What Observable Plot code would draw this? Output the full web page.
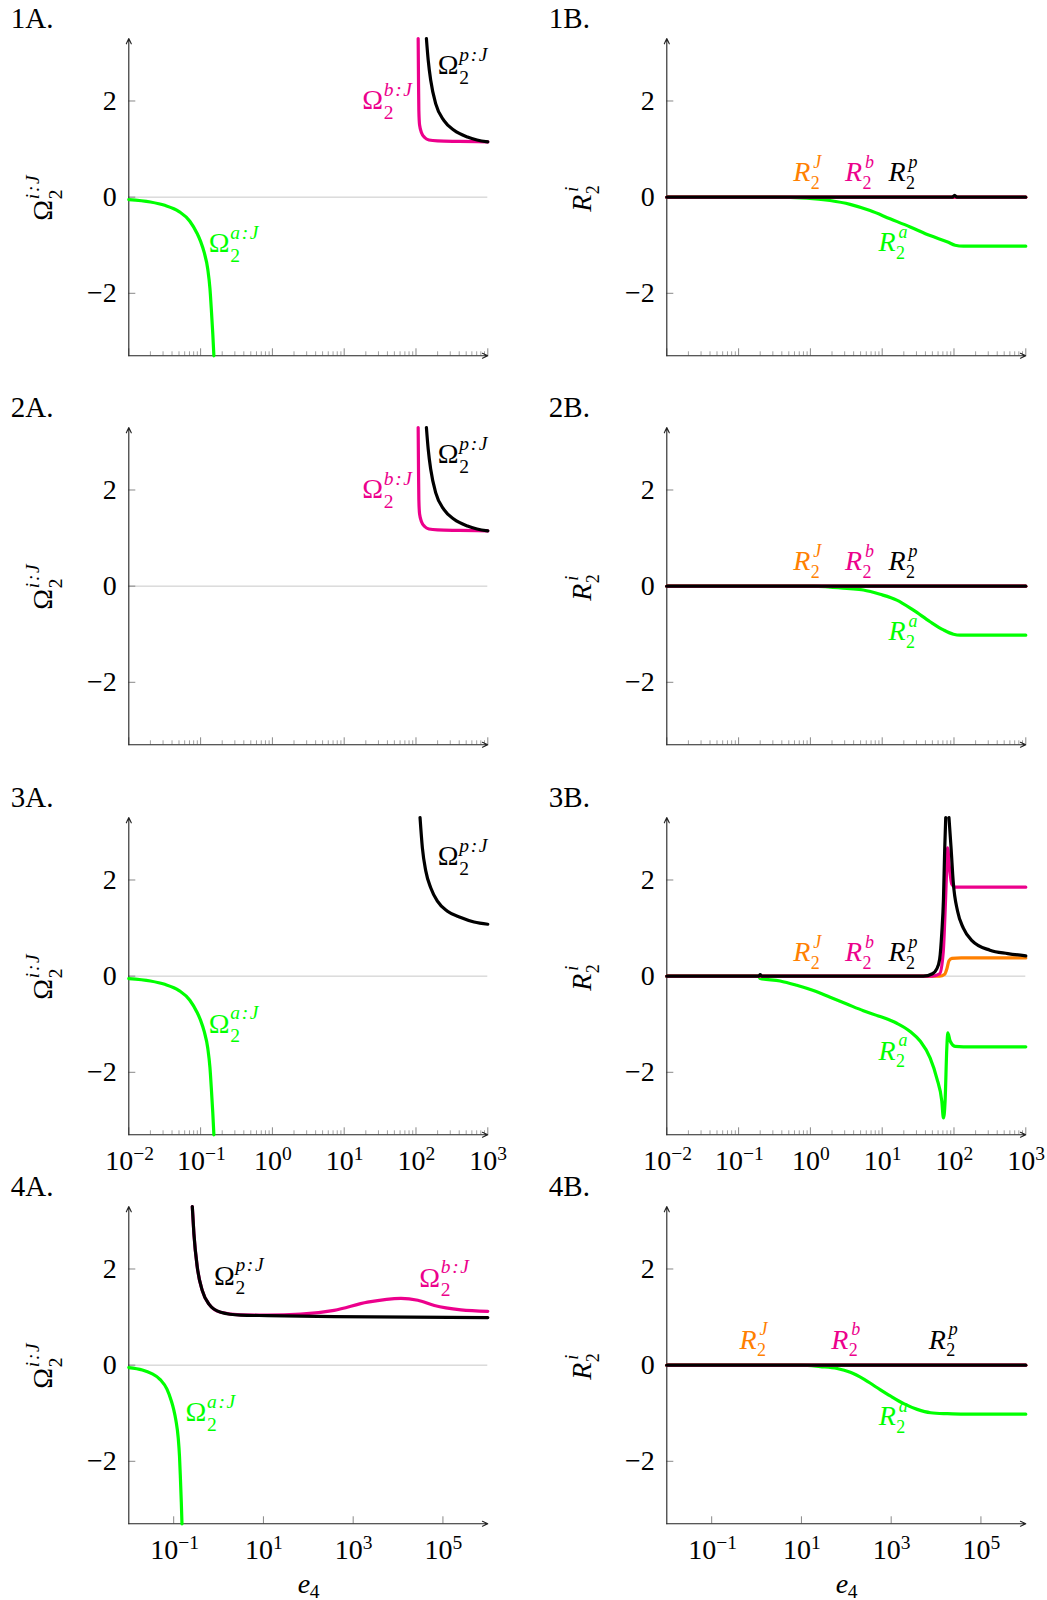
<!DOCTYPE html>
<html>
<head>
<meta charset="utf-8">
<script src="https://cdn.jsdelivr.net/npm/d3@7"></script>
<script src="https://cdn.jsdelivr.net/npm/@observablehq/plot@0.6"></script>
<style>
  body { margin: 0; background: #fff; }
  #fig { position: relative; width: 1047px; height: 1600px; overflow: hidden; background: #fff; }
  .panel { position: absolute; }
  .panel svg { overflow: visible; }
</style>
</head>
<body>
<div id="fig"></div>
<script>
// ---------------- data ----------------
// x = e4, y = value
const omegaA = [[0.01,-0.05],[0.02,-0.10],[0.0316,-0.17],[0.0501,-0.30],[0.0708,-0.50],[0.0891,-0.75],[0.1,-0.92],[0.1122,-1.15],[0.1259,-1.50],[0.1349,-1.90],[0.1413,-2.35],[0.1479,-2.85],[0.1531,-3.3]];
const omegaB_12 = [[107.2,3.3],[108.4,2.4],[109.6,1.8],[112.2,1.5],[120.2,1.33],[131.8,1.24],[151.4,1.19],[199.5,1.17],[398.1,1.16],[1000,1.15]];
const omegaP_12 = [[139.6,3.3],[147.9,2.85],[160.3,2.43],[188.4,1.94],[245.5,1.59],[338.8,1.39],[521.2,1.25],[707.9,1.19],[1000,1.15]];
const omegaP_3 = [[113.8,3.3],[122.7,2.67],[136.8,2.19],[160.3,1.84],[198.6,1.56],[274.2,1.35],[420.7,1.22],[644.2,1.125],[1000,1.08]];
const omegaP_4 = [[0.26,3.3],[0.2825,2.73],[0.3365,2.03],[0.4345,1.55],[0.6109,1.27],[1.114,1.10],[3.112,1.04],[12.27,1.03],[376.7,1.01],[1e6,0.99]];
const omegaB_4 = [[0.26,3.3],[0.2825,2.73],[0.3365,2.03],[0.4345,1.55],[0.6109,1.27],[1.114,1.10],[3.112,1.045],[12.27,1.04],[67.6,1.06],[376.7,1.14],[2089,1.31],[11610,1.39],[27540,1.35],[64570,1.24],[251200,1.15],[1e6,1.12]];

const rA_1 = [[0.01,0],[0.316,0],[0.891,-0.02],[1.879,-0.07],[3.573,-0.15],[6.776,-0.28],[12.88,-0.45],[24.55,-0.62],[46.45,-0.80],[83.56,-0.94],[103.5,-1.00],[134.9,-1.02],[1000,-1.02]];
const rJ_1 = [[0.01,0],[1000,0]];
const rB_1 = [[0.01,0],[1000,0]];
const rP_1 = [[0.01,0],[95,0],[102,0.04],[110,0],[1000,0]];

const rA_2 = [[0.01,0],[1.102,0],[1.884,-0.02],[3.573,-0.05],[5.47,-0.08],[9.354,-0.17],[15.96,-0.29],[27.23,-0.50],[46.45,-0.74],[71.29,-0.91],[98.2,-1.00],[121.6,-1.02],[1000,-1.02]];
const rJ_2 = [[0.01,0],[1000,0]];
const rB_2 = [[0.01,0],[1000,0]];
const rP_2 = [[0.01,0],[1000,0]];

const rA_3 = [[0.01,0],[0.19,0],[0.1995,-0.05],[0.3784,-0.10],[0.6457,-0.19],[1.102,-0.30],[1.884,-0.44],[3.214,-0.58],[5.47,-0.72],[9.354,-0.84],[15.96,-0.98],[24.49,-1.15],[33.73,-1.35],[46.45,-1.70],[57.54,-2.12],[67.61,-2.60],[71.29,-2.95],[75.16,-2.60],[79.43,-1.49],[82.04,-1.18],[88.31,-1.35],[103.5,-1.46],[135.2,-1.47],[1000,-1.47]];
const rJ_3 = [[0.01,0],[63.1,0],[74.1,0.04],[79.4,0.15],[85.1,0.32],[93.3,0.37],[125.9,0.38],[1000,0.38]];
const rB_3 = [[0.01,0],[50.1,0],[63.1,0.05],[70.8,0.5],[75.9,1.5],[79.4,2.3],[81.3,2.67],[86.3,2.26],[93.3,1.91],[103.5,1.85],[1000,1.85]];
const rP_3 = [[0.01,0],[0.19,0],[0.2,0.03],[0.21,0],[37.5,0],[50.1,0.05],[57.5,0.15],[63.1,0.35],[67.6,0.9],[71.3,1.6],[74.1,2.6],[76.7,3.3],[80,NaN],[85.1,3.3],[91.2,2.65],[97.7,1.95],[112.2,1.35],[134.9,1.0],[177.8,0.74],[316.2,0.54],[562.3,0.47],[1000,0.42]];

const rA_4 = [[0.01,0],[10,0],[26.3,-0.03],[62.4,-0.07],[123,-0.15],[245.5,-0.29],[489.8,-0.47],[955,-0.64],[1905,-0.80],[3802,-0.92],[7586,-0.99],[17780,-1.01],[41690,-1.02],[1e6,-1.02]];
const rJ_4 = [[0.01,0],[1e6,0]];
const rB_4 = [[0.01,0],[1e6,0]];
const rP_4 = [[0.01,0],[1e6,0]];

// tick labels
const yTicks = [-2, 0, 2];
const tickExpRows123 = [-2, -1, 0, 1, 2, 3];
const tickExpRow4 = [-1, 1, 3, 5];
const minorMult = [2, 3, 4, 5, 6, 7, 8, 9];

// ---------------- styling ----------------
const GREEN = "#00ff00", MAG = "#ec008c", ORANGE = "#ff8000", BLACK = "#000000";
const FONT = "'Liberation Serif', 'Times New Roman', serif";
const FS = 28, FSS = 19.5, FSS_R = 18;
const XMIN = 0.01, YMIN = -3.3, YMAX = 3.3;
const FRAME_W = 359, FRAME_H = 317.3, ML = 128.3, MT = 38, PANEL_W = 509;
const ROW_H = 389.3, COL_B = 538.4;

const panels = [
  {id: "1A", row: 0, col: 0, xmax: 1000,
   series: [[omegaA, GREEN], [omegaB_12, MAG], [omegaP_12, BLACK]],
   labels: [{x: 201, y: 2.74, sup: "p\u200A:\u200AJ", col: BLACK}, {x: 17.9, y: 2.01, sup: "b\u200A:\u200AJ", col: MAG}, {x: 0.130, y: -0.96, sup: "a\u200A:\u200AJ", col: GREEN}]},
  {id: "1B", row: 0, col: 1, xmax: 1000,
   series: [[rA_1, GREEN], [rJ_1, ORANGE], [rB_1, MAG], [rP_1, BLACK]],
   labels: [{x: 0.579, y: 0.52, sup: "J", col: ORANGE}, {x: 3.04, y: 0.52, sup: "b", col: MAG}, {x: 12.2, y: 0.52, sup: "p", col: BLACK}, {x: 8.85, y: -0.94, sup: "a", col: GREEN}]},
  {id: "2A", row: 1, col: 0, xmax: 1000,
   series: [[omegaB_12, MAG], [omegaP_12, BLACK]],
   labels: [{x: 201, y: 2.74, sup: "p\u200A:\u200AJ", col: BLACK}, {x: 17.9, y: 2.01, sup: "b\u200A:\u200AJ", col: MAG}]},
  {id: "2B", row: 1, col: 1, xmax: 1000,
   series: [[rA_2, GREEN], [rJ_2, ORANGE], [rB_2, MAG], [rP_2, BLACK]],
   labels: [{x: 0.579, y: 0.52, sup: "J", col: ORANGE}, {x: 3.04, y: 0.52, sup: "b", col: MAG}, {x: 12.2, y: 0.52, sup: "p", col: BLACK}, {x: 12.2, y: -0.94, sup: "a", col: GREEN}]},
  {id: "3A", row: 2, col: 0, xmax: 1000,
   series: [[omegaA, GREEN], [omegaP_3, BLACK]],
   labels: [{x: 201, y: 2.50, sup: "p\u200A:\u200AJ", col: BLACK}, {x: 0.130, y: -0.99, sup: "a\u200A:\u200AJ", col: GREEN}]},
  {id: "3B", row: 2, col: 1, xmax: 1000,
   series: [[rA_3, GREEN], [rJ_3, ORANGE], [rB_3, MAG], [rP_3, BLACK]],
   labels: [{x: 0.579, y: 0.50, sup: "J", col: ORANGE}, {x: 3.04, y: 0.50, sup: "b", col: MAG}, {x: 12.2, y: 0.50, sup: "p", col: BLACK}, {x: 8.85, y: -1.55, sup: "a", col: GREEN}]},
  {id: "4A", row: 3, col: 0, xmax: 1e6,
   series: [[omegaA, GREEN], [omegaB_4, MAG], [omegaP_4, BLACK]],
   labels: [{x: 0.789, y: 1.86, sup: "p\u200A:\u200AJ", col: BLACK}, {x: 29700, y: 1.82, sup: "b\u200A:\u200AJ", col: MAG}, {x: 0.1845, y: -0.98, sup: "a\u200A:\u200AJ", col: GREEN}]},
  {id: "4B", row: 3, col: 1, xmax: 1e6,
   series: [[rA_4, GREEN], [rJ_4, ORANGE], [rB_4, MAG], [rP_4, BLACK]],
   labels: [{x: 0.418, y: 0.53, sup: "J", col: ORANGE}, {x: 46.4, y: 0.53, sup: "b", col: MAG}, {x: 6900, y: 0.53, sup: "p", col: BLACK}, {x: 528, y: -1.06, sup: "a", col: GREEN}]}
];

function mathLabelMarks(list, base, italic, subDx, supDx, subDy, supDy, fss) {
  const common = {x: "x", y: "y", fill: "col", textAnchor: "start", lineAnchor: "middle", fontFamily: FONT};
  return [
    Plot.text(list, {...common, text: () => base, fontSize: FS, fontStyle: italic ? "italic" : "normal"}),
    Plot.text(list, {...common, text: () => "2", fontSize: fss, dx: subDx, dy: subDy}),
    Plot.text(list, {...common, text: "sup", fontSize: fss, fontStyle: "italic", dx: supDx, dy: supDy})
  ];
}

function makePanel(p) {
  const xmax = p.xmax;
  const decades = Math.log10(xmax / XMIN);
  const H = p.row === 3 ? 432 : ROW_H;
  const yPerPx = (YMAX - YMIN) / FRAME_H;
  const majorExp = p.row === 3 ? tickExpRow4 : tickExpRows123;
  const majorX = majorExp.map(e => 10 ** e);
  const minorX = p.row === 3 ? [] : tickExpRows123.slice(0, -1).flatMap(e => minorMult.map(m => m * 10 ** e));
  const txt = {fontFamily: FONT, lineAnchor: "middle"};
  const marks = [];

  // zero line
  marks.push(Plot.ruleY([0], {y: d => d, stroke: "#c8c8c8", strokeWidth: 1}));
  // ticks (inward)
  if (minorX.length) marks.push(Plot.ruleX(minorX, {x: d => d, y1: YMIN, y2: YMIN + 4 * yPerPx, stroke: "#8a8a8a", strokeWidth: 0.8}));
  marks.push(Plot.ruleX(majorX, {x: d => d, y1: YMIN, y2: YMIN + 7 * yPerPx, stroke: "#7a7a7a", strokeWidth: 0.9}));
  marks.push(Plot.ruleY(yTicks, {y: d => d, x1: XMIN, x2: XMIN * 10 ** (7 * decades / FRAME_W), stroke: "#7a7a7a", strokeWidth: 0.9}));
  // axes with arrows
  marks.push(Plot.arrow([0], {x1: () => XMIN, y1: () => YMIN, x2: () => XMIN, y2: () => YMAX, stroke: "#222", strokeWidth: 1.1, headLength: 8, headAngle: 50}));
  marks.push(Plot.arrow([0], {x1: () => XMIN, y1: () => YMIN, x2: () => xmax, y2: () => YMIN, stroke: "#222", strokeWidth: 1.1, headLength: 8, headAngle: 50}));

  // y tick labels
  marks.push(Plot.text(yTicks, {...txt, y: d => d, frameAnchor: "left", text: d => d < 0 ? "\u2212" + (-d) : String(d), textAnchor: "end", dx: -12, fontSize: FS, fill: "#000"}));

  // x tick labels (rows 3 and 4)
  if (p.row >= 2) {
    const neg = majorExp.filter(e => e < 0), pos = majorExp.filter(e => e >= 0);
    marks.push(Plot.text(neg, {...txt, x: e => 10 ** e, frameAnchor: "bottom", text: () => "10", textAnchor: "end", dx: 4.5, dy: 26, fontSize: FS}));
    marks.push(Plot.text(neg, {...txt, x: e => 10 ** e, frameAnchor: "bottom", text: e => "\u2212" + (-e), textAnchor: "start", dx: 4.5, dy: 18.5, fontSize: FSS}));
    marks.push(Plot.text(pos, {...txt, x: e => 10 ** e, frameAnchor: "bottom", text: () => "10", textAnchor: "end", dx: 9.5, dy: 26, fontSize: FS}));
    marks.push(Plot.text(pos, {...txt, x: e => 10 ** e, frameAnchor: "bottom", text: e => String(e), textAnchor: "start", dx: 9.5, dy: 18.5, fontSize: FSS}));
  }
  // x axis title (row 4)
  if (p.row === 3) {
    marks.push(Plot.text([0], {...txt, frameAnchor: "bottom", text: () => "e", fontStyle: "italic", textAnchor: "start", dx: -10.5, dy: 60, fontSize: FS}));
    marks.push(Plot.text([0], {...txt, frameAnchor: "bottom", text: () => "4", textAnchor: "start", dx: 1.5, dy: 67.5, fontSize: FSS}));
  }

  // data lines
  for (const [data, color] of p.series) {
    marks.push(Plot.line(data, {x: d => d[0], y: d => d[1], stroke: color, strokeWidth: 3.2, curve: "monotone-x"}));
  }

  // curve labels
  if (p.col === 0) marks.push(...mathLabelMarks(p.labels, "\u03A9", false, 21.5, 21.5, 12.5, -10.5, FSS));
  else marks.push(...mathLabelMarks(p.labels, "R", true, 17.5, 20, 11, -10, FSS_R));

  // y axis title (rotated)
  if (p.col === 0) {
    marks.push(Plot.text([0], {...txt, frameAnchor: "left", text: () => "\u03A9", rotate: -90, textAnchor: "start", dx: -85.8, dy: 23.5, fontSize: FS}));
    marks.push(Plot.text([0], {...txt, frameAnchor: "left", text: () => "2", rotate: -90, textAnchor: "start", dx: -85.8 + 12.5, dy: 2, fontSize: FSS}));
    marks.push(Plot.text([0], {...txt, frameAnchor: "left", text: () => "i\u200A:\u200AJ", fontStyle: "italic", rotate: -90, textAnchor: "start", dx: -85.8 - 10.5, dy: 2, fontSize: FSS}));
  } else {
    marks.push(Plot.text([0], {...txt, frameAnchor: "left", text: () => "R", fontStyle: "italic", rotate: -90, textAnchor: "start", dx: -84.5, dy: 14.5, fontSize: FS}));
    marks.push(Plot.text([0], {...txt, frameAnchor: "left", text: () => "2", rotate: -90, textAnchor: "start", dx: -84.5 + 11, dy: -3, fontSize: FSS_R}));
    marks.push(Plot.text([0], {...txt, frameAnchor: "left", text: () => "i", fontStyle: "italic", rotate: -90, textAnchor: "start", dx: -84.5 - 10, dy: -5.5, fontSize: FSS_R}));
  }

  // panel label
  marks.push(Plot.text([p.id + "."], {...txt, frameAnchor: "top-left", text: d => d, textAnchor: "start", dx: -118, dy: -19.5, fontSize: 29}));

  const svg = Plot.plot({
    width: PANEL_W,
    height: H,
    marginLeft: ML,
    marginRight: PANEL_W - ML - FRAME_W,
    marginTop: MT,
    marginBottom: H - MT - FRAME_H,
    x: {type: "log", domain: [XMIN, xmax], axis: null},
    y: {domain: [YMIN, YMAX], axis: null},
    color: {type: "identity"},
    style: {background: "transparent", overflow: "visible", fontFamily: FONT, color: "#000"},
    marks
  });
  const div = document.createElement("div");
  div.className = "panel";
  div.style.left = (p.col === 0 ? 0 : COL_B) + "px";
  div.style.top = (p.row * ROW_H) + "px";
  div.style.width = PANEL_W + "px";
  div.appendChild(svg);
  document.getElementById("fig").appendChild(div);
}

panels.forEach(makePanel);
</script>
</body>
</html>
